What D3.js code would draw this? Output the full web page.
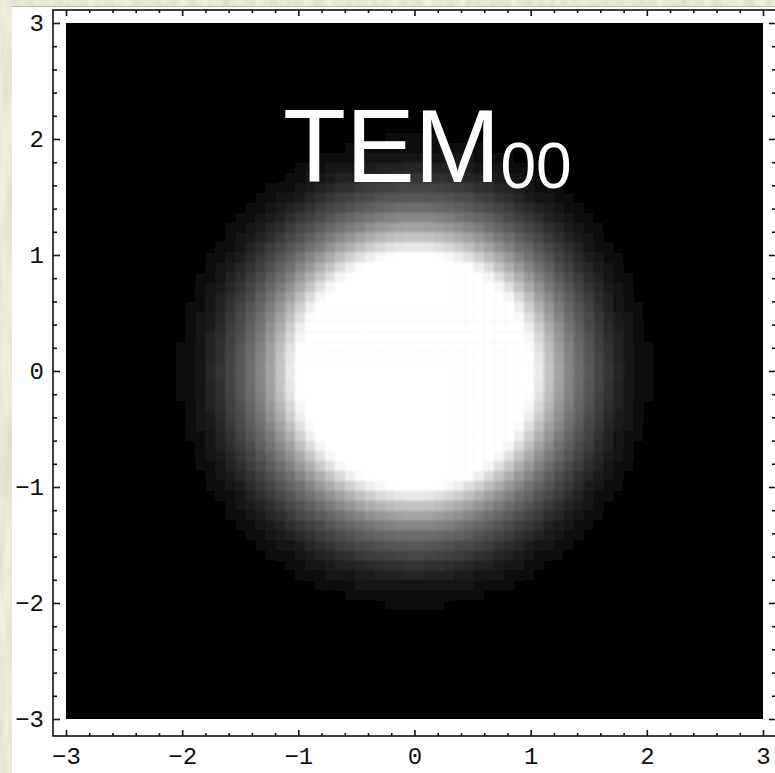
<!DOCTYPE html>
<html>
<head>
<meta charset="utf-8">
<script src="https://cdn.jsdelivr.net/npm/d3@7"></script>
<style>
  html, body { margin: 0; padding: 0; background: #fff; overflow: hidden; }
  svg { display: block; }
</style>
</head>
<body>
<svg id="chart" width="775" height="773"></svg>
<script>
// Axis ticks and labels
const xTickValues = [-3, -2, -1, 0, 1, 2, 3];
const yTickValues = [-3, -2, -1, 0, 1, 2, 3];
const plotDomain = [-3, 3];
const minorStep = 0.2;

// Density grid resolution (cells per side)
const gridSize = 70;

// Radial intensity profile of the TEM00 spot: radius (beam units) -> grey level
const profileRadius = [0, 1.00, 1.05, 1.13, 1.21, 1.30, 1.38, 1.47, 1.55, 1.64, 1.72, 1.81, 1.90, 1.98, 2.07, 2.16, 2.25, 4.30];
const profileGray   = [255, 255, 242, 208, 175, 144, 118,  95,  76,  58,  43,  29,  18,  10,   4,   1,   0,   0];

// Title
const titleMain = "TEM";
const titleSub = "00";

const W = 775, H = 773;
const svg = d3.select("#chart");
const defs = svg.append("defs");

// Paper-like backdrop
const paper = defs.append("filter").attr("id", "paper")
  .attr("x", 0).attr("y", 0).attr("width", 1).attr("height", 1);
paper.append("feTurbulence").attr("type", "fractalNoise")
  .attr("baseFrequency", "0.09 0.012").attr("numOctaves", 3).attr("seed", 7).attr("result", "n");
paper.append("feColorMatrix").attr("in", "n").attr("type", "matrix")
  .attr("values", "0.30 0 0 0 0.66  0.30 0 0 0 0.65  0.26 0 0 0 0.54  0 0 0 0 1");

svg.append("rect").attr("width", W).attr("height", H).attr("filter", "url(#paper)");

// White plot panel
svg.append("rect").attr("x", 12).attr("y", 6).attr("width", W - 12).attr("height", H - 6).attr("fill", "#fff");
svg.append("line").attr("x1", 12).attr("x2", W).attr("y1", 6.5).attr("y2", 6.5)
  .attr("stroke", "#b8b8b0").attr("stroke-width", 1);

// Scales
const x = d3.scaleLinear().domain(plotDomain).range([66, 763]);
const y = d3.scaleLinear().domain(plotDomain).range([719, 23]);
const grey = d3.scaleLinear().domain(profileRadius).range(profileGray).clamp(true);

// Density cells
const step = (plotDomain[1] - plotDomain[0]) / gridSize;
const edges = d3.range(gridSize + 1).map(i => plotDomain[0] + i * step);
const cells = [];
for (let i = 0; i < gridSize; i++) {
  for (let j = 0; j < gridSize; j++) {
    const x0 = edges[i], x1 = edges[i + 1], y0 = edges[j], y1 = edges[j + 1];
    const r = Math.hypot((x0 + x1) / 2, (y0 + y1) / 2);
    cells.push({ x0, x1, y0, y1, v: grey(r) });
  }
}

defs.append("clipPath").attr("id", "plotClip").append("rect")
  .attr("x", x(plotDomain[0])).attr("y", y(plotDomain[1]))
  .attr("width", x(plotDomain[1]) - x(plotDomain[0]))
  .attr("height", y(plotDomain[0]) - y(plotDomain[1]));
defs.append("filter").attr("id", "soft").append("feGaussianBlur").attr("stdDeviation", 1.1);

const plot = svg.append("g").attr("clip-path", "url(#plotClip)");
const cellG = plot.append("g").attr("filter", "url(#soft)");
cellG.append("rect")
  .attr("x", x(plotDomain[0]) - 5).attr("y", y(plotDomain[1]) - 5)
  .attr("width", x(plotDomain[1]) - x(plotDomain[0]) + 10)
  .attr("height", y(plotDomain[0]) - y(plotDomain[1]) + 10)
  .attr("fill", "#000");
cellG.selectAll("rect.cell").data(cells.filter(d => d.v > 0)).join("rect")
  .attr("class", "cell")
  .attr("x", d => x(d.x0))
  .attr("y", d => y(d.y1))
  .attr("width", d => x(d.x1) - x(d.x0) + 0.6)
  .attr("height", d => y(d.y0) - y(d.y1) + 0.6)
  .attr("fill", d => { const g = Math.round(d.v); return d3.rgb(g, g, g); });

// Title
const title = svg.append("text")
  .attr("x", 283).attr("y", 182)
  .attr("fill", "#fff")
  .style("font-family", "'Liberation Sans', Arial, sans-serif");
title.append("tspan").attr("font-size", 103).text(titleMain);
title.append("tspan").attr("font-size", 64).attr("dy", 6).text(titleSub);

// Frame with inward ticks
const frame = { left: 53, top: 10, right: 776, bottom: 736 };
svg.append("rect")
  .attr("x", frame.left).attr("y", frame.top)
  .attr("width", frame.right - frame.left).attr("height", frame.bottom - frame.top)
  .attr("fill", "none").attr("stroke", "#111").attr("stroke-width", 1.6);

const minorTicks = d3.range(Math.round((plotDomain[1] - plotDomain[0]) / minorStep) + 1)
  .map(i => +(plotDomain[0] + i * minorStep).toFixed(6))
  .filter(v => !xTickValues.includes(v));

const tickFont = "'Liberation Mono', 'DejaVu Sans Mono', monospace";
const intFormat = d3.format("d");
function styleAxis(g) {
  g.select(".domain").remove();
  g.selectAll(".tick line").attr("stroke", "#111").attr("stroke-width", 1.6);
  g.selectAll(".tick text").attr("fill", "#111")
    .style("font-family", tickFont).style("font-size", "24px");
}

// bottom
svg.append("g").attr("transform", `translate(0,${frame.bottom})`)
  .call(d3.axisBottom(x).tickValues(xTickValues).tickFormat(intFormat).tickSizeInner(-6).tickSizeOuter(0).tickPadding(11))
  .call(styleAxis);
svg.append("g").attr("transform", `translate(0,${frame.bottom})`)
  .call(d3.axisBottom(x).tickValues(minorTicks).tickSizeInner(-3).tickSizeOuter(0).tickFormat(""))
  .call(styleAxis);
// top
svg.append("g").attr("transform", `translate(0,${frame.top})`)
  .call(d3.axisTop(x).tickValues(xTickValues).tickSizeInner(-6).tickSizeOuter(0).tickFormat(""))
  .call(styleAxis);
svg.append("g").attr("transform", `translate(0,${frame.top})`)
  .call(d3.axisTop(x).tickValues(minorTicks).tickSizeInner(-3).tickSizeOuter(0).tickFormat(""))
  .call(styleAxis);
// left
svg.append("g").attr("transform", `translate(${frame.left},0)`)
  .call(d3.axisLeft(y).tickValues(yTickValues).tickFormat(intFormat).tickSizeInner(-7).tickSizeOuter(0).tickPadding(9))
  .call(styleAxis);
svg.append("g").attr("transform", `translate(${frame.left},0)`)
  .call(d3.axisLeft(y).tickValues(minorTicks).tickSizeInner(-4).tickSizeOuter(0).tickFormat(""))
  .call(styleAxis);
// right
svg.append("g").attr("transform", `translate(${frame.right},0)`)
  .call(d3.axisRight(y).tickValues(yTickValues).tickSizeInner(-7).tickSizeOuter(0).tickFormat(""))
  .call(styleAxis);
svg.append("g").attr("transform", `translate(${frame.right},0)`)
  .call(d3.axisRight(y).tickValues(minorTicks).tickSizeInner(-4).tickSizeOuter(0).tickFormat(""))
  .call(styleAxis);
</script>
</body>
</html>
